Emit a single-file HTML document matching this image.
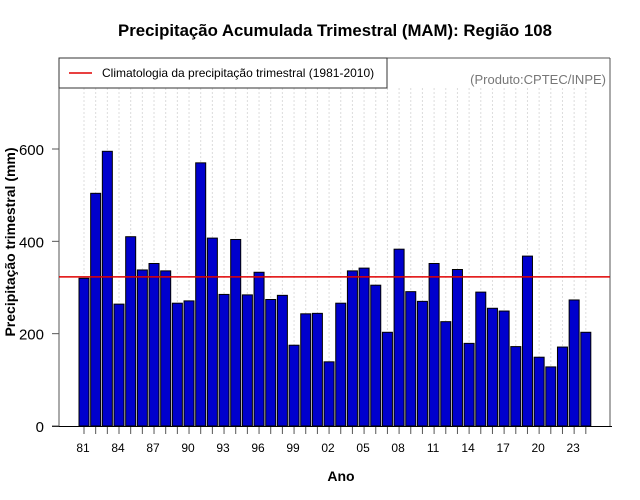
<!DOCTYPE html>
<html><head><meta charset="utf-8"><style>
body{margin:0;background:#fff;}
svg{display:block;font-family:"Liberation Sans",sans-serif;}
</style></head><body>
<svg id="chart" width="640" height="500">
<rect x="0" y="0" width="640" height="500" fill="#fff"/>
<text x="335" y="36" text-anchor="middle" font-size="16.8" font-weight="bold">Precipitação Acumulada Trimestral (MAM): Região 108</text>
<g id="grid"></g>
<g id="bars"></g>
<line x1="59" y1="58" x2="59" y2="426" stroke="#555"/>
<line x1="610" y1="58" x2="610" y2="426" stroke="#555"/>
<line x1="59" y1="58" x2="610" y2="58" stroke="#555"/>
<line x1="52" y1="426.5" x2="612" y2="426.5" stroke="#000"/>
<g id="xaxis"></g>
<g id="yaxis"></g>
<line id="clim" stroke="#e00000" stroke-width="1.5"/>
<g>
<rect x="59" y="58" width="328" height="30" fill="#fff" stroke="#333"/>
<line x1="69" y1="73" x2="92" y2="73" stroke="#e00000" stroke-width="1.5"/>
<text x="102" y="77" font-size="12">Climatologia da precipitação trimestral (1981-2010)</text>
</g>
<text x="606" y="84" text-anchor="end" font-size="13" fill="#777">(Produto:CPTEC/INPE)</text>
<text x="341" y="481" text-anchor="middle" font-size="14" font-weight="bold">Ano</text>
<text transform="translate(15,242) rotate(-90)" text-anchor="middle" font-size="14" font-weight="bold">Precipitação trimestral (mm)</text>
</svg>
<script>
const years = [];
for (let y = 1981; y <= 2024; y++) years.push(y);
const values = [320,504,595,264,410,338,352,336,266,271,570,407,285,404,284,333,274,283,175,243,244,139,266,336,342,305,203,383,291,270,352,226,339,179,290,255,249,172,368,149,128,171,273,203];
const climatology = 323;
const yTicks = [0,200,400,600];

const NS = "http://www.w3.org/2000/svg";
const y0 = 426, pxPerUnit = 277/600;
const yScale = v => y0 - v * pxPerUnit;
const x0 = 84, step = 11.67;
const xScale = i => x0 + i * step;
const barW = 10;

const grid = document.getElementById('grid');
const bars = document.getElementById('bars');
const xaxis = document.getElementById('xaxis');
const yaxis = document.getElementById('yaxis');

function mk(tag, attrs, parent) {
  const e = document.createElementNS(NS, tag);
  for (const k in attrs) e.setAttribute(k, attrs[k]);
  parent.appendChild(e);
  return e;
}

years.forEach((yr, i) => {
  const cx = xScale(i);
  const g = mk('line', {x1: cx, y1: 88, x2: cx, y2: 426, stroke: '#dcdcdc', 'stroke-dasharray': '2,2'}, grid);
  
  
  const top = yScale(values[i]);
  const r = mk('rect', {x: cx - barW/2, y: top, width: barW, height: y0 - top, fill: '#0000cd', stroke: '#000', 'stroke-width': 1}, bars);
  
  
  const t = mk('line', {x1: cx, y1: 427, x2: cx, y2: 434, stroke: '#555'}, xaxis);
  
  
  if (i % 3 === 0) {
    const lb = mk('text', {x: cx - 1, y: 452, 'text-anchor': 'middle', 'font-size': 12}, xaxis);
    lb.textContent = String(yr).slice(2);
    
    
  }
});

yTicks.forEach(v => {
  const y = yScale(v);
  const t = mk('line', {x1: 52, y1: y, x2: 59, y2: y, stroke: '#555'}, yaxis);
  
  
  const lb = mk('text', {x: 44, y: y + 6, 'text-anchor': 'end', 'font-size': 15}, yaxis);
  lb.textContent = v;
  
  
});

const cl = document.getElementById('clim');
cl.setAttribute('x1', 59); cl.setAttribute('x2', 610);
cl.setAttribute('y1', yScale(climatology)); cl.setAttribute('y2', yScale(climatology));
</script>
</body></html>
